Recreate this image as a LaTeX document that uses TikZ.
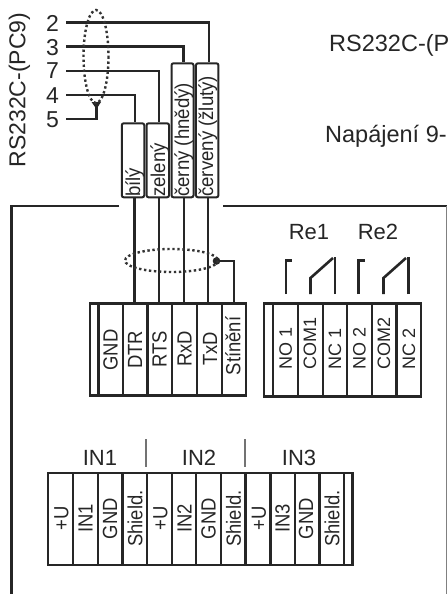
\documentclass[tikz,border=0pt]{standalone}
\usepackage{fontspec}
\setmainfont{Liberation Sans}
\tikzset{
  x=1pt,y=-1pt,
  wire/.style={line width=2.6pt,draw=black!85,line join=miter},
  shield/.style={line width=2.4pt,draw=black!80,dash pattern=on 2.4pt off 2.6pt},
  blockline/.style={line width=2.6pt,draw=black!85},
  frameline/.style={line width=2.6pt,draw=black!85},
  colourbox/.style={rounded corners=2pt,line width=2pt,draw=black!85,fill=white,inner sep=0pt,outer sep=0pt},
  toplabel/.style={font=\fontsize{22}{22}\selectfont,text=black!85,inner sep=0pt},
  wirelabel/.style={rotate=90,xscale=.93,font=\fontsize{20}{20}\selectfont,text=black!85,inner sep=0pt,anchor=base west},
  termlabel/.style={rotate=90,xscale=.9,font=\fontsize{20.5}{20.5}\selectfont,text=black!85,inner sep=0pt},
  rellabel/.style={rotate=90,font=\fontsize{18}{18}\selectfont,text=black!85,inner sep=0pt,anchor=west},
  sep/.style={line width=1.3pt,draw=black!55},
}
\begin{document}
\begin{tikzpicture}
\useasboundingbox (0,0) rectangle (447,594);
\clip (0,0) rectangle (447,594);
\fill[white] (0,0) rectangle (447,594);
% header
\node[rotate=90,font=\fontsize{23}{23}\selectfont,text=black!85,inner sep=0pt] (pc) at (19.5,90) {RS232C-(PC9)};
\node[font=\fontsize{23.5}{23.5}\selectfont,text=black!85,inner sep=0pt,anchor=base west] (t1) at (329,52) {RS232C-(P};
\node[font=\fontsize{23.5}{23.5}\selectfont,text=black!85,inner sep=0pt,anchor=base west] (t2) at (325,142) {Napájení 9-};
\foreach \n/\y in {2/23,3/47.5,7/71,4/96,5/119.5}{
  \node[font=\fontsize{23}{23}\selectfont,text=black!85,inner sep=0pt] (pin\n) at (52.5,\y) {\n};
}
\foreach \n/\y in {2/22.5,3/46.5,7/71,4/95,5/119}{
  \coordinate (p\n) at (66,\y);
}
% colour boxes
\node[colourbox,minimum width=22.5pt,minimum height=74pt] (bily) at (133,160.3) {};
\node[colourbox,minimum width=22.5pt,minimum height=74pt] (zeleny) at (157.8,160.3) {};
\node[colourbox,minimum width=22pt,minimum height=134pt] (cerny) at (182.5,130.3) {};
\node[colourbox,minimum width=22.5pt,minimum height=134pt] (cerveny) at (207.2,130.3) {};
\node[wirelabel] at (140,197) {bílý};
\node[wirelabel] at (165,197) {zelený};
\node[wirelabel] at (189,197) {černý (hnědý)};
\node[wirelabel] at (213,197) {červený (žlutý)};
% wires from pins
\coordinate (a2) at (209,62);
\coordinate (a3) at (183.5,62);
\coordinate (a7) at (159,122);
\coordinate (a4) at (135,122);
\draw[wire] (p2) -| (a2);
\draw[wire] (p3) -| (a3);
\draw[wire] (p7) -| (a7);
\draw[wire] (p4) -| (a4);
\coordinate (sh1) at (96.5,105);
\draw[wire] (p5) -| (sh1);
\fill[black!85] (96.5,109) -- (91.5,102) -- (101,102) -- cycle;
\draw[shield] (96,56.5) ellipse [x radius=12.5,y radius=46.5];
% frame
\draw[frameline] (119,206) -- (11.3,206) -- (11.3,594);
\draw[frameline] (223,206) -- (447,206);
\draw[line width=1pt,draw=black!50] (446.6,206) -- (446.6,594);
% terminal block 1
\draw[blockline] (90,303.5) rectangle (246,395.7);
\foreach \x in {98.5,123,147.5,172,197,222}{\draw[blockline] (\x,303.5) -- (\x,395.7);}
\node[termlabel] at (110.5,350) {GND};
\node[termlabel] at (135,350) {DTR};
\node[termlabel] at (159.5,349) {RTS};
\node[termlabel] at (184.5,349) {RxD};
\node[termlabel] at (210,349) {TxD};
\node[termlabel] (sti) at (233,346) {Stínění};
% wires to block
\draw[wire] (134.5,198) -- (134.5,303);
\draw[wire] (159,198) -- (159,303);
\draw[wire] (184,198) -- (184,303);
\draw[wire] (208,198) -- (208,303);
\draw[wire] (234,303) |- (217,261);
\fill[black!85] (216.5,261) circle[radius=3.8];
\draw[shield] (171.5,260.5) ellipse [x radius=46.5,y radius=11.5];
% terminal block 2
\draw[blockline] (264,303.5) rectangle (421,396.5);
\foreach \x in {273,298,323,347,372,396.5}{\draw[blockline] (\x,303.5) -- (\x,396.5);}
\node[rellabel] at (285.7,370) {NO 1};
\node[rellabel] at (310,370) {COM1};
\node[rellabel] at (335,370) {NC 1};
\node[rellabel] at (359.5,370) {NO 2};
\node[rellabel] at (384,370) {COM2};
\node[rellabel] at (409,370) {NC 2};
% relays
\node[toplabel] at (309,232) {Re1};
\node[toplabel] at (378,232) {Re2};
\draw[wire] (286,294) -- (286,260.5) -- (292,260.5);
\draw[wire] (310.5,294) -- (310.5,278) -- (333,258);
\draw[wire] (335,294) -- (335,257);
\draw[wire] (358.5,294) -- (358.5,260.5) -- (364.5,260.5);
\draw[wire] (383.5,294) -- (383.5,278) -- (406,258);
\draw[wire] (408.5,294) -- (408.5,257);
% IN block
\draw[blockline] (48,473) rectangle (352.5,565);
\foreach \x in {73,98,122.5,147,172,196,221,245.5,270.5,295,319.5,344}{\draw[blockline] (\x,473) -- (\x,565);}
\foreach \x/\t in {61.5/+U,85.5/IN1,110/GND,135/Shield.,160.5/+U,184.5/IN2,208.5/GND,233.5/Shield.,259/+U,282.5/IN3,306/GND,332/Shield.}{
  \node[termlabel] at (\x,518.5) {\t};
}
\node[toplabel] at (100,458) {IN1};
\node[toplabel] at (199,458) {IN2};
\node[toplabel] at (299,458) {IN3};
\draw[sep] (146,439) -- (146,467);
\draw[sep] (245,439) -- (245,467);
\end{tikzpicture}
\end{document}
